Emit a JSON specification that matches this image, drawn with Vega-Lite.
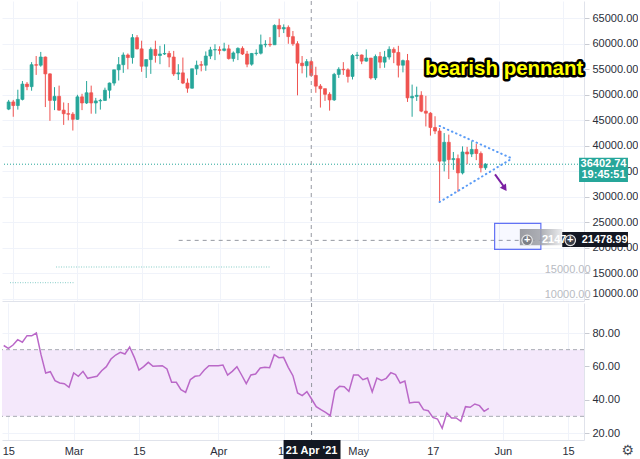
{
  "$schema": "https://vega.github.io/schema/vega-lite/v6.json",
  "padding": 0,
  "spacing": 0,
  "background": "white",
  "config": {
    "view": {"stroke": null},
    "font": "Liberation Sans",
    "axis": {"labelFont": "Liberation Sans", "labelFontSize": 11, "labelColor": "#2a2e39", "labelOverlap": false},
    "axisY": {"labelOverlap": false},
    "axisQuantitative": {"labelOverlap": false}
  },
  "datasets": {
    "candles": [
      {"date":"2021-02-14","open":47200,"high":49000,"low":47000,"close":48600},
      {"date":"2021-02-15","open":48600,"high":49000,"low":45700,"close":47900},
      {"date":"2021-02-16","open":47900,"high":51000,"low":47100,"close":49100},
      {"date":"2021-02-17","open":49100,"high":52700,"low":48900,"close":52100},
      {"date":"2021-02-18","open":52100,"high":52500,"low":50900,"close":51600},
      {"date":"2021-02-19","open":51600,"high":56400,"low":50800,"close":55900},
      {"date":"2021-02-20","open":55900,"high":57600,"low":53900,"close":55800},
      {"date":"2021-02-21","open":55800,"high":58400,"low":55500,"close":57400},
      {"date":"2021-02-22","open":57400,"high":57500,"low":47600,"close":54100},
      {"date":"2021-02-23","open":54100,"high":54200,"low":44900,"close":48900},
      {"date":"2021-02-24","open":48900,"high":51500,"low":47000,"close":49700},
      {"date":"2021-02-25","open":49700,"high":51800,"low":46900,"close":47000},
      {"date":"2021-02-26","open":47000,"high":48500,"low":44100,"close":46300},
      {"date":"2021-02-27","open":46300,"high":48400,"low":45000,"close":46200},
      {"date":"2021-02-28","open":46200,"high":46600,"low":43000,"close":45200},
      {"date":"2021-03-01","open":45200,"high":50000,"low":45100,"close":49600},
      {"date":"2021-03-02","open":49600,"high":50200,"low":47000,"close":48400},
      {"date":"2021-03-03","open":48400,"high":52700,"low":48200,"close":50400},
      {"date":"2021-03-04","open":50400,"high":51800,"low":46300,"close":48400},
      {"date":"2021-03-05","open":48400,"high":49400,"low":46300,"close":48800},
      {"date":"2021-03-06","open":48800,"high":49200,"low":47100,"close":48900},
      {"date":"2021-03-07","open":48900,"high":51400,"low":48800,"close":50900},
      {"date":"2021-03-08","open":50900,"high":52400,"low":49300,"close":52300},
      {"date":"2021-03-09","open":52300,"high":54900,"low":51800,"close":54900},
      {"date":"2021-03-10","open":54900,"high":57400,"low":52800,"close":55900},
      {"date":"2021-03-11","open":55900,"high":58300,"low":54300,"close":57800},
      {"date":"2021-03-12","open":57800,"high":58100,"low":55000,"close":57300},
      {"date":"2021-03-13","open":57300,"high":61900,"low":56100,"close":61200},
      {"date":"2021-03-14","open":61200,"high":61700,"low":58900,"close":59000},
      {"date":"2021-03-15","open":59000,"high":60600,"low":54500,"close":55600},
      {"date":"2021-03-16","open":55600,"high":56900,"low":53300,"close":56900},
      {"date":"2021-03-17","open":56900,"high":59300,"low":54100,"close":58900},
      {"date":"2021-03-18","open":58900,"high":60600,"low":56300,"close":57700},
      {"date":"2021-03-19","open":57700,"high":59600,"low":56000,"close":58000},
      {"date":"2021-03-20","open":58000,"high":59900,"low":57800,"close":58100},
      {"date":"2021-03-21","open":58100,"high":58600,"low":55400,"close":57400},
      {"date":"2021-03-22","open":57400,"high":58600,"low":53700,"close":54100},
      {"date":"2021-03-23","open":54100,"high":56000,"low":52900,"close":54300},
      {"date":"2021-03-24","open":54300,"high":57300,"low":52100,"close":52300},
      {"date":"2021-03-25","open":52300,"high":53200,"low":50400,"close":51300},
      {"date":"2021-03-26","open":51300,"high":55100,"low":51200,"close":55100},
      {"date":"2021-03-27","open":55100,"high":56700,"low":53900,"close":55800},
      {"date":"2021-03-28","open":55900,"high":56600,"low":54600,"close":55800},
      {"date":"2021-03-29","open":55800,"high":58500,"low":54700,"close":57600},
      {"date":"2021-03-30","open":57600,"high":59400,"low":57000,"close":58800},
      {"date":"2021-03-31","open":58800,"high":59900,"low":56800,"close":58850},
      {"date":"2021-04-01","open":58850,"high":59500,"low":57900,"close":58700},
      {"date":"2021-04-02","open":58700,"high":60200,"low":58500,"close":59000},
      {"date":"2021-04-03","open":59000,"high":59800,"low":56900,"close":57100},
      {"date":"2021-04-04","open":57100,"high":58500,"low":56500,"close":58200},
      {"date":"2021-04-05","open":58200,"high":59300,"low":56800,"close":59100},
      {"date":"2021-04-06","open":59100,"high":59500,"low":57800,"close":58000},
      {"date":"2021-04-07","open":58000,"high":58600,"low":55400,"close":56000},
      {"date":"2021-04-08","open":56000,"high":58200,"low":55700,"close":58100},
      {"date":"2021-04-09","open":58100,"high":58900,"low":57700,"close":58150},
      {"date":"2021-04-10","open":58150,"high":61800,"low":57900,"close":59800},
      {"date":"2021-04-11","open":59800,"high":60700,"low":59300,"close":59900},
      {"date":"2021-04-12","open":59900,"high":61300,"low":59400,"close":59800},
      {"date":"2021-04-13","open":59800,"high":63800,"low":59800,"close":63600},
      {"date":"2021-04-14","open":63600,"high":64900,"low":61300,"close":62900},
      {"date":"2021-04-15","open":62900,"high":63800,"low":62100,"close":63200},
      {"date":"2021-04-16","open":63200,"high":63600,"low":60000,"close":61400},
      {"date":"2021-04-17","open":61400,"high":62500,"low":59600,"close":60000},
      {"date":"2021-04-18","open":60000,"high":60500,"low":49900,"close":56200},
      {"date":"2021-04-19","open":56200,"high":57600,"low":54200,"close":55700},
      {"date":"2021-04-20","open":55700,"high":57000,"low":53400,"close":56500},
      {"date":"2021-04-21","open":56500,"high":56800,"low":53600,"close":53800},
      {"date":"2021-04-22","open":53800,"high":55500,"low":50400,"close":51700},
      {"date":"2021-04-23","open":51700,"high":52100,"low":47500,"close":51200},
      {"date":"2021-04-24","open":51200,"high":51200,"low":48800,"close":50100},
      {"date":"2021-04-25","open":50100,"high":50500,"low":46900,"close":49000},
      {"date":"2021-04-26","open":49000,"high":54300,"low":48800,"close":54000},
      {"date":"2021-04-27","open":54000,"high":55400,"low":53300,"close":55000},
      {"date":"2021-04-28","open":55000,"high":56400,"low":53900,"close":54900},
      {"date":"2021-04-29","open":54900,"high":55200,"low":52400,"close":53600},
      {"date":"2021-04-30","open":53600,"high":58000,"low":53000,"close":57700},
      {"date":"2021-05-01","open":57700,"high":58400,"low":57000,"close":57800},
      {"date":"2021-05-02","open":57800,"high":57900,"low":56000,"close":56600},
      {"date":"2021-05-03","open":56600,"high":58900,"low":56500,"close":57200},
      {"date":"2021-05-04","open":57200,"high":57200,"low":53000,"close":53300},
      {"date":"2021-05-05","open":53300,"high":57900,"low":52900,"close":57500},
      {"date":"2021-05-06","open":57500,"high":58400,"low":55200,"close":56400},
      {"date":"2021-05-07","open":56400,"high":58600,"low":55300,"close":57400},
      {"date":"2021-05-08","open":57400,"high":59500,"low":56900,"close":58900},
      {"date":"2021-05-09","open":58900,"high":59300,"low":56200,"close":58300},
      {"date":"2021-05-10","open":58300,"high":59600,"low":53400,"close":55800},
      {"date":"2021-05-11","open":55800,"high":56900,"low":54400,"close":56700},
      {"date":"2021-05-12","open":56700,"high":58000,"low":48600,"close":49400},
      {"date":"2021-05-13","open":49400,"high":52000,"low":45700,"close":49700},
      {"date":"2021-05-14","open":49700,"high":51600,"low":48800,"close":49900},
      {"date":"2021-05-15","open":49900,"high":50700,"low":46600,"close":46800},
      {"date":"2021-05-16","open":46800,"high":49800,"low":43800,"close":46400},
      {"date":"2021-05-17","open":46400,"high":46600,"low":42000,"close":43600},
      {"date":"2021-05-18","open":43600,"high":45800,"low":42300,"close":42900},
      {"date":"2021-05-19","open":42900,"high":43500,"low":29000,"close":37000},
      {"date":"2021-05-20","open":37000,"high":42500,"low":35000,"close":40700},
      {"date":"2021-05-21","open":40700,"high":42200,"low":33500,"close":37300},
      {"date":"2021-05-22","open":37300,"high":38800,"low":35300,"close":37500},
      {"date":"2021-05-23","open":37500,"high":38300,"low":31000,"close":34700},
      {"date":"2021-05-24","open":34700,"high":39900,"low":34400,"close":38800},
      {"date":"2021-05-25","open":38800,"high":39800,"low":36400,"close":38400},
      {"date":"2021-05-26","open":38400,"high":40900,"low":37800,"close":39300},
      {"date":"2021-05-27","open":39300,"high":40400,"low":37200,"close":38500},
      {"date":"2021-05-28","open":38500,"high":38900,"low":34800,"close":35700},
      {"date":"2021-05-29","open":35700,"high":36600,"low":35300,"close":36400}
    ],
    "rsi": [
      {"date":"2021-02-14","rsi":72.5},{"date":"2021-02-15","rsi":70.8},{"date":"2021-02-16","rsi":72.8},
      {"date":"2021-02-17","rsi":76},{"date":"2021-02-18","rsi":74.5},{"date":"2021-02-19","rsi":78.4},
      {"date":"2021-02-20","rsi":78.3},{"date":"2021-02-21","rsi":80},{"date":"2021-02-22","rsi":67},
      {"date":"2021-02-23","rsi":56},{"date":"2021-02-24","rsi":56.8},{"date":"2021-02-25","rsi":51.4},
      {"date":"2021-02-26","rsi":50},{"date":"2021-02-27","rsi":49.6},{"date":"2021-02-28","rsi":47.4},
      {"date":"2021-03-01","rsi":56},{"date":"2021-03-02","rsi":54},{"date":"2021-03-03","rsi":57},
      {"date":"2021-03-04","rsi":52.8},{"date":"2021-03-05","rsi":53.4},{"date":"2021-03-06","rsi":54},
      {"date":"2021-03-07","rsi":57.4},{"date":"2021-03-08","rsi":59.8},{"date":"2021-03-09","rsi":64.4},
      {"date":"2021-03-10","rsi":66.8},{"date":"2021-03-11","rsi":68.4},{"date":"2021-03-12","rsi":67.4},
      {"date":"2021-03-13","rsi":71.6},{"date":"2021-03-14","rsi":65.4},{"date":"2021-03-15","rsi":57.8},
      {"date":"2021-03-16","rsi":59.8},{"date":"2021-03-17","rsi":62.4},{"date":"2021-03-18","rsi":60},
      {"date":"2021-03-19","rsi":60.2},{"date":"2021-03-20","rsi":60.4},{"date":"2021-03-21","rsi":58.4},
      {"date":"2021-03-22","rsi":50.4},{"date":"2021-03-23","rsi":50.4},{"date":"2021-03-24","rsi":46},
      {"date":"2021-03-25","rsi":44.4},{"date":"2021-03-26","rsi":52},{"date":"2021-03-27","rsi":54},
      {"date":"2021-03-28","rsi":54.4},{"date":"2021-03-29","rsi":57.8},{"date":"2021-03-30","rsi":60.4},
      {"date":"2021-03-31","rsi":60.4},{"date":"2021-04-01","rsi":60.4},{"date":"2021-04-02","rsi":60.8},
      {"date":"2021-04-03","rsi":54.8},{"date":"2021-04-04","rsi":57},{"date":"2021-04-05","rsi":59.8},
      {"date":"2021-04-06","rsi":54.8},{"date":"2021-04-07","rsi":49.6},{"date":"2021-04-08","rsi":54.8},
      {"date":"2021-04-09","rsi":55.4},{"date":"2021-04-10","rsi":59},{"date":"2021-04-11","rsi":59.4},
      {"date":"2021-04-12","rsi":59.2},{"date":"2021-04-13","rsi":67},{"date":"2021-04-14","rsi":65.2},
      {"date":"2021-04-15","rsi":65.4},{"date":"2021-04-16","rsi":59.4},{"date":"2021-04-17","rsi":54.4},
      {"date":"2021-04-18","rsi":44},{"date":"2021-04-19","rsi":42.4},{"date":"2021-04-20","rsi":44.8},
      {"date":"2021-04-21","rsi":40.4},{"date":"2021-04-22","rsi":35.8},{"date":"2021-04-23","rsi":34},
      {"date":"2021-04-24","rsi":32.4},{"date":"2021-04-25","rsi":30.4},{"date":"2021-04-26","rsi":45.4},
      {"date":"2021-04-27","rsi":48},{"date":"2021-04-28","rsi":47.8},{"date":"2021-04-29","rsi":45},
      {"date":"2021-04-30","rsi":54.8},{"date":"2021-05-01","rsi":54.8},{"date":"2021-05-02","rsi":52},
      {"date":"2021-05-03","rsi":53},{"date":"2021-05-04","rsi":44.6},{"date":"2021-05-05","rsi":53},
      {"date":"2021-05-06","rsi":51.6},{"date":"2021-05-07","rsi":52.8},{"date":"2021-05-08","rsi":56.2},
      {"date":"2021-05-09","rsi":55},{"date":"2021-05-10","rsi":50},{"date":"2021-05-11","rsi":51.2},
      {"date":"2021-05-12","rsi":38},{"date":"2021-05-13","rsi":38.4},{"date":"2021-05-14","rsi":38.4},
      {"date":"2021-05-15","rsi":34},{"date":"2021-05-16","rsi":33.4},{"date":"2021-05-17","rsi":29.4},
      {"date":"2021-05-18","rsi":28.4},{"date":"2021-05-19","rsi":22.8},{"date":"2021-05-20","rsi":32},
      {"date":"2021-05-21","rsi":29},{"date":"2021-05-22","rsi":29},{"date":"2021-05-23","rsi":27},
      {"date":"2021-05-24","rsi":35.8},{"date":"2021-05-25","rsi":35.4},{"date":"2021-05-26","rsi":37.4},
      {"date":"2021-05-27","rsi":36.4},{"date":"2021-05-28","rsi":33},{"date":"2021-05-29","rsi":34.8}
    ]
  },
  "vconcat": [
    {
      "width": 582,
      "height": 300,
      "layer": [
        {
          "data": {"name": "candles"},
          "mark": {"type": "rule", "strokeWidth": 1},
          "encoding": {
            "x": {
              "field": "date", "type": "temporal",
              "scale": {"type": "utc", "domain": [{"year":2021,"month":2,"date":13,"hours":15,"minutes":15,"utc":true},{"year":2021,"month":6,"date":18,"hours":9,"minutes":40,"utc":true}]},
              "axis": {"orient": "bottom", "title": null, "labels": false, "ticks": false, "domain": true, "domainColor": "#e0e3eb", "grid": true, "gridColor": "#f0f3fa",
                "values": [{"year":2021,"month":2,"date":15,"utc":true},{"year":2021,"month":3,"date":1,"utc":true},{"year":2021,"month":3,"date":15,"utc":true},{"year":2021,"month":4,"date":1,"utc":true},{"year":2021,"month":4,"date":15,"utc":true},{"year":2021,"month":5,"date":1,"utc":true},{"year":2021,"month":5,"date":17,"utc":true},{"year":2021,"month":6,"date":1,"utc":true},{"year":2021,"month":6,"date":15,"utc":true}]}
            },
            "y": {
              "field": "low", "type": "quantitative",
              "scale": {"domain": [9600, 68380], "nice": false, "zero": false},
              "axis": {"orient": "right", "title": null, "format": ".2f", "tickCount": 12,
                "grid": true, "gridColor": "#f0f3fa", "domain": true, "domainColor": "#e0e3eb", "tickColor": "#c8cbd2", "tickSize": 5, "labelPadding": 3, "labelFlush": 3, "labelOverlap": false, "labelSeparation": 0}
            },
            "y2": {"field": "high"},
            "color": {"condition": {"test": "datum.close >= datum.open", "value": "#26a69a"}, "value": "#ef5350"}
          }
        },
        {
          "data": {"name": "candles"},
          "mark": {"type": "bar", "width": 3, "strokeWidth": 0.7},
          "encoding": {
            "x": {"field": "date", "type": "temporal", "scale": {"type": "utc"}},
            "y": {"field": "open", "type": "quantitative"},
            "y2": {"field": "close"},
            "color": {"condition": {"test": "datum.close >= datum.open", "value": "#26a69a"}, "value": "#ef5350"},
            "stroke": {"condition": {"test": "datum.close >= datum.open", "value": "#26a69a"}, "value": "#ef5350"}
          }
        },
        {
          "data": {"values": [{"p": 36402.74}]},
          "mark": {"type": "rule", "color": "#26a69a", "strokeWidth": 1, "strokeDash": [1, 2]},
          "encoding": {"y": {"field": "p", "type": "quantitative"}}
        },
        {
          "data": {"values": [{"d1": "2021-02-24T08:00:00Z", "d2": "2021-04-11T22:00:00Z", "p": 16263}, {"d1": "2021-02-14T07:00:00Z", "d2": "2021-02-28T05:00:00Z", "p": 13187}]},
          "mark": {"type": "rule", "color": "#26a69a", "opacity": 0.55, "strokeWidth": 1, "strokeDash": [1, 1.5]},
          "encoding": {
            "x": {"field": "d1", "type": "temporal", "scale": {"type": "utc"}},
            "x2": {"field": "d2"},
            "y": {"field": "p", "type": "quantitative"}
          }
        },
        {
          "data": {"values": [{"d1": "2021-03-23T02:00:00Z", "d2": "2021-06-18T09:40:00Z", "p": 21478.99}]},
          "mark": {"type": "rule", "color": "#9598a1", "strokeWidth": 1, "strokeDash": [4, 4]},
          "encoding": {
            "x": {"field": "d1", "type": "temporal", "scale": {"type": "utc"}},
            "x2": {"field": "d2"},
            "y": {"field": "p", "type": "quantitative"}
          }
        },
        {
          "data": {"values": [{"d": "2021-04-21T00:00:00Z"}]},
          "mark": {"type": "rule", "color": "#9598a1", "strokeWidth": 1, "strokeDash": [4, 4]},
          "encoding": {"x": {"field": "d", "type": "temporal", "scale": {"type": "utc"}}}
        },
        {
          "data": {"values": [
            {"g": "upper", "d": "2021-05-19T00:00:00Z", "p": 43889},
            {"g": "upper", "d": "2021-06-03T19:00:00Z", "p": 37521},
            {"g": "lower", "d": "2021-05-19T00:00:00Z", "p": 29000},
            {"g": "lower", "d": "2021-06-03T19:00:00Z", "p": 37521}
          ]},
          "mark": {"type": "line", "color": "#5b9cf6", "strokeWidth": 2, "strokeDash": [0.5, 4], "strokeCap": "round"},
          "encoding": {
            "x": {"field": "d", "type": "temporal", "scale": {"type": "utc"}},
            "y": {"field": "p", "type": "quantitative"},
            "detail": {"field": "g"}
          }
        },
        {
          "data": {"values": [{"d1": "2021-05-31T02:00:00Z", "p1": 34425, "d2": "2021-06-01T22:00:00Z", "p2": 32133}]},
          "mark": {"type": "rule", "color": "#7b1fa2", "strokeWidth": 2},
          "encoding": {
            "x": {"field": "d1", "type": "temporal", "scale": {"type": "utc"}},
            "x2": {"field": "d2"},
            "y": {"field": "p1", "type": "quantitative"},
            "y2": {"field": "p2"}
          }
        },
        {
          "data": {"values": [{"d": "2021-06-02T05:00:00Z", "p": 31682}]},
          "mark": {"type": "point", "shape": "triangle-down", "filled": true, "color": "#7b1fa2", "size": 55, "angle": -35, "opacity": 1},
          "encoding": {
            "x": {"field": "d", "type": "temporal", "scale": {"type": "utc"}},
            "y": {"field": "p", "type": "quantitative"}
          }
        },
        {
          "data": {"values": [{"d": "2021-06-02T02:00:00Z", "p": 55057, "t": "bearish pennant"}]},
          "mark": {"type": "text", "font": "Liberation Sans", "fontWeight": "bold", "fontSize": 20.5, "fill": "#000000", "stroke": "#000000", "strokeWidth": 5, "strokeJoin": "round", "align": "center", "baseline": "middle"},
          "encoding": {
            "x": {"field": "d", "type": "temporal", "scale": {"type": "utc"}},
            "y": {"field": "p", "type": "quantitative"},
            "text": {"field": "t"}
          }
        },
        {
          "data": {"values": [{"d": "2021-06-02T02:00:00Z", "p": 55057, "t": "bearish pennant"}]},
          "mark": {"type": "text", "font": "Liberation Sans", "fontWeight": "bold", "fontSize": 20.5, "fill": "#ffff00", "align": "center", "baseline": "middle"},
          "encoding": {
            "x": {"field": "d", "type": "temporal", "scale": {"type": "utc"}},
            "y": {"field": "p", "type": "quantitative"},
            "text": {"field": "t"}
          }
        },
        {
          "data": {"values": [{"d": "2021-06-10T22:00:00Z", "p": 15616, "t": "15000.00"}, {"d": "2021-06-10T22:00:00Z", "p": 10717, "t": "10000.00"}]},
          "mark": {"type": "text", "font": "Liberation Sans", "fontSize": 11, "fill": "#b8bbc2", "align": "left", "baseline": "middle"},
          "encoding": {
            "x": {"field": "d", "type": "temporal", "scale": {"type": "utc"}},
            "y": {"field": "p", "type": "quantitative"},
            "text": {"field": "t"}
          }
        },
        {
          "data": {"values": [{"d1": "2021-05-31T00:00:00Z", "d2": "2021-06-10T02:00:00Z", "p1": 24824, "p2": 19730}]},
          "mark": {"type": "rect", "fill": "#5b6cf6", "fillOpacity": 0.05, "stroke": "#6272f5", "strokeWidth": 1.2},
          "encoding": {
            "x": {"field": "d1", "type": "temporal", "scale": {"type": "utc"}},
            "x2": {"field": "d2"},
            "y": {"field": "p1", "type": "quantitative"},
            "y2": {"field": "p2"}
          }
        },
        {
          "data": {"values": [{"d1": "2021-06-05T12:00:00Z", "d2": "2021-06-14T18:00:00Z", "p1": 23708, "p2": 20515}]},
          "mark": {"type": "rect", "fill": {"gradient": "linear", "x1": 0, "y1": 0, "x2": 1, "y2": 0, "stops": [{"offset": 0, "color": "#8a8c92"}, {"offset": 0.5, "color": "#a0a2a8"}, {"offset": 1, "color": "#e8e9ec"}]}, "opacity": 0.85},
          "encoding": {
            "x": {"field": "d1", "type": "temporal", "scale": {"type": "utc"}},
            "x2": {"field": "d2"},
            "y": {"field": "p1", "type": "quantitative"},
            "y2": {"field": "p2"}
          }
        },
        {
          "data": {"values": [{"d1": "2021-06-14T18:00:00Z", "d2": "2021-06-29T02:00:00Z", "p1": 23121, "p2": 20181}, {"d1": "2021-06-18T10:00:00Z", "d2": "2021-06-29T02:00:00Z", "p1": 37677, "p2": 32917}]},
          "mark": {"type": "rect"},
          "encoding": {
            "x": {"field": "d1", "type": "temporal", "scale": {"type": "utc"}},
            "x2": {"field": "d2"},
            "y": {"field": "p1", "type": "quantitative"},
            "y2": {"field": "p2"},
            "color": {"condition": {"test": "datum.p1 > 30000", "value": "#26a69a"}, "value": "#131722"}
          }
        },
        {
          "data": {"values": [{"d": "2021-06-07T02:00:00Z", "p": 21478.99, "k": "ghost"}, {"d": "2021-06-16T12:00:00Z", "p": 21478.99, "k": "dark"}]},
          "mark": {"type": "point", "shape": "circle", "size": 110, "strokeWidth": 1.2, "filled": true, "opacity": 1},
          "encoding": {
            "x": {"field": "d", "type": "temporal", "scale": {"type": "utc"}},
            "y": {"field": "p", "type": "quantitative"},
            "fill": {"condition": {"test": "datum.k == 'dark'", "value": "#3a3e48"}, "value": "#7d7f86"},
            "stroke": {"value": "#e6e6e6"}
          }
        },
        {
          "data": {"values": [
            {"d": "2021-06-07T02:00:00Z", "p": 21478.99, "t": "+"},
            {"d": "2021-06-16T12:00:00Z", "p": 21478.99, "t": "+"},
            {"d": "2021-06-13T00:00:00Z", "p": 21478.99, "t": "2147"},
            {"d": "2021-06-24T00:00:00Z", "p": 21478.99, "t": "21478.99"},
            {"d": "2021-06-23T18:00:00Z", "p": 36402.74, "t": "36402.74"},
            {"d": "2021-06-23T18:00:00Z", "p": 34230, "t": "19:45:51"}
          ]},
          "mark": {"type": "text", "font": "Liberation Sans", "fontWeight": "bold", "fontSize": 11, "fill": "#ffffff", "align": "center", "baseline": "middle"},
          "encoding": {
            "x": {"field": "d", "type": "temporal", "scale": {"type": "utc"}},
            "y": {"field": "p", "type": "quantitative"},
            "text": {"field": "t"}
          }
        }
      ]
    },
    {
      "width": 582,
      "height": 137,
      "layer": [
        {
          "data": {"values": [{}]},
          "mark": {"type": "rect", "color": "#f4e8fb"},
          "encoding": {
            "y": {"datum": 70, "type": "quantitative"},
            "y2": {"datum": 30}
          }
        },
        {
          "data": {"values": [{"v": 70}, {"v": 30}]},
          "mark": {"type": "rule", "color": "#a8abb4", "strokeWidth": 1, "strokeDash": [4, 3]},
          "encoding": {"y": {"field": "v", "type": "quantitative"}}
        },
        {
          "data": {"values": [{"d": "2021-04-21T00:00:00Z"}]},
          "mark": {"type": "rule", "color": "#9598a1", "strokeWidth": 1, "strokeDash": [4, 4]},
          "encoding": {"x": {"field": "d", "type": "temporal", "scale": {"type": "utc"}}}
        },
        {
          "data": {"name": "rsi"},
          "mark": {"type": "line", "color": "#ba68c8", "strokeWidth": 1.5},
          "encoding": {
            "x": {
              "field": "date", "type": "temporal",
              "scale": {"type": "utc", "domain": [{"year":2021,"month":2,"date":13,"hours":15,"minutes":15,"utc":true},{"year":2021,"month":6,"date":18,"hours":9,"minutes":40,"utc":true}]},
              "axis": {"orient": "bottom", "title": null, "ticks": false, "domain": true, "domainColor": "#e0e3eb", "grid": true, "gridColor": "#f0f3fa", "labelPadding": 5, "labelOverlap": false,
                "labelExpr": "utcdate(datum.value) == 1 ? utcFormat(datum.value, '%b') : utcFormat(datum.value, '%-d')",
                "values": [{"year":2021,"month":2,"date":15,"utc":true},{"year":2021,"month":3,"date":1,"utc":true},{"year":2021,"month":3,"date":15,"utc":true},{"year":2021,"month":4,"date":1,"utc":true},{"year":2021,"month":4,"date":15,"utc":true},{"year":2021,"month":5,"date":1,"utc":true},{"year":2021,"month":5,"date":17,"utc":true},{"year":2021,"month":6,"date":1,"utc":true},{"year":2021,"month":6,"date":15,"utc":true}]}
            },
            "y": {
              "field": "rsi", "type": "quantitative",
              "scale": {"domain": [15.8, 98], "nice": false, "zero": false},
              "axis": {"orient": "right", "title": null, "format": ".2f", "values": [20, 40, 60, 80], "grid": true, "gridColor": "#f0f3fa", "domain": true, "domainColor": "#e0e3eb", "tickColor": "#c8cbd2", "tickSize": 5, "labelPadding": 3, "labelOverlap": false}
            }
          }
        },
        {
          "data": {"values": [{"d1": "2021-04-15T00:00:00Z", "d2": "2021-04-27T05:00:00Z", "v1": 15.8, "v2": 3.0}]},
          "mark": {"type": "rect", "color": "#131722", "clip": false},
          "encoding": {
            "x": {"field": "d1", "type": "temporal", "scale": {"type": "utc"}},
            "x2": {"field": "d2"},
            "y": {"field": "v1", "type": "quantitative"},
            "y2": {"field": "v2"}
          }
        },
        {
          "data": {"values": [{"d": "2021-04-21T00:00:00Z", "v": 9.3, "t": "21 Apr '21"}]},
          "mark": {"type": "text", "font": "Liberation Sans", "fontWeight": "bold", "fontSize": 11, "fill": "#ffffff", "align": "center", "baseline": "middle", "clip": false},
          "encoding": {
            "x": {"field": "d", "type": "temporal", "scale": {"type": "utc"}},
            "y": {"field": "v", "type": "quantitative"},
            "text": {"field": "t"}
          }
        },
        {
          "data": {"values": [{"d": "2021-06-27T19:00:00Z", "v": 9.5, "t": "⚙"}]},
          "mark": {"type": "text", "font": "DejaVu Sans", "fontSize": 14, "fill": "#4a4e58", "align": "center", "baseline": "middle", "clip": false},
          "encoding": {
            "x": {"field": "d", "type": "temporal", "scale": {"type": "utc"}},
            "y": {"field": "v", "type": "quantitative"},
            "text": {"field": "t"}
          }
        }
      ]
    }
  ]
}
